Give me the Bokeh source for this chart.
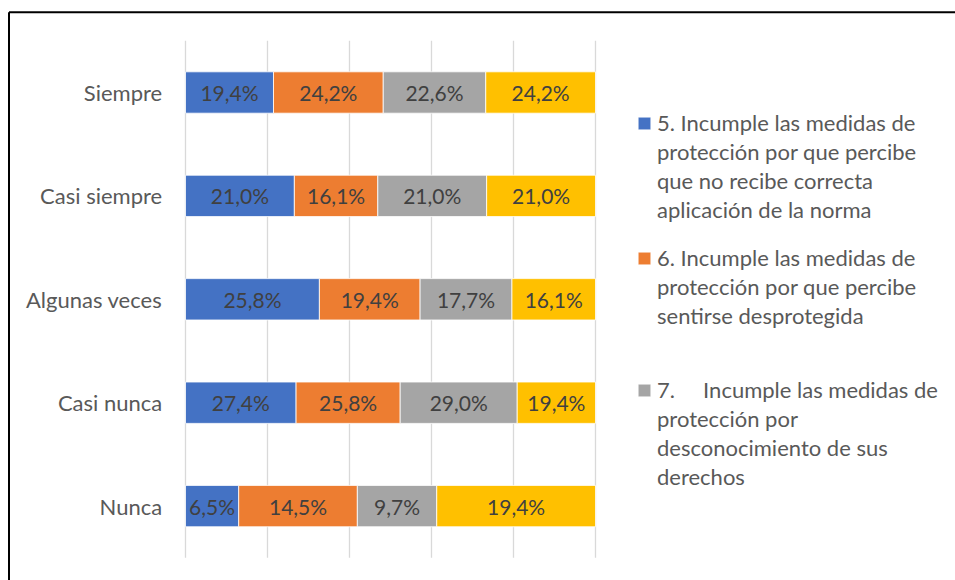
from bokeh.plotting import figure
from bokeh.models import ColumnDataSource, Range1d, Legend, LegendItem
from bokeh.core.properties import value
from bokeh.embed import file_html
from bokeh.resources import INLINE

categories = ["Siempre", "Casi siempre", "Algunas veces", "Casi nunca", "Nunca"]
s5 = [19.4, 21.0, 25.8, 27.4, 6.5]
s6 = [24.2, 16.1, 19.4, 25.8, 14.5]
s7 = [22.6, 21.0, 17.7, 29.0, 9.7]
s8 = [24.2, 21.0, 16.1, 19.4, 19.4]
series = [s5, s6, s7, s8]
legend_lines = [
    ["5. Incumple las medidas de", "protección por que percibe",
     "que no recibe correcta", "aplicación de la norma"],
    ["6. Incumple las medidas de", "protección por que percibe",
     "sentirse desprotegida"],
    ["7.     Incumple las medidas de", "protección por",
     "desconocimiento de sus", "derechos"],
]
colors = ["#4472C4", "#ED7D31", "#A5A5A5", "#FFC000"]
grid_ticks = [0, 0.2, 0.4, 0.6, 0.8, 1.0]

FONT = "Lato"
W, H = 955, 580
# layout: pixel geometry of the plotting area inside the canvas
X0_PX, X_SPAN_PX = 185, 410          # x = 0 .. 1 (100 %)
Y0_PX, Y_STEP_PX = 92, 103.4         # centre of first category, category spacing

x_range = Range1d(-X0_PX / X_SPAN_PX, (W - X0_PX) / X_SPAN_PX)
y_range = Range1d((H - Y0_PX) / Y_STEP_PX, -Y0_PX / Y_STEP_PX)

p = figure(width=W, height=H, output_backend="svg", toolbar_location=None,
           x_range=x_range, y_range=y_range, x_axis_location=None, y_axis_location=None,
           min_border=0, min_border_left=0, min_border_right=0,
           min_border_top=0, min_border_bottom=0)
p.outline_line_color = None
p.grid.visible = False
p.background_fill_color = "white"
p.border_fill_color = "white"

ypos = list(range(len(categories)))

# vertical gridlines at the percentage ticks
p.segment(x0=grid_ticks, x1=grid_ticks, y0=[-0.5] * len(grid_ticks),
          y1=[len(categories) - 0.5] * len(grid_ticks), line_color="#D9D9D9", line_width=1.3)

# category labels
p.text(x=[0] * len(categories), y=ypos, text=categories, x_offset=-23.3,
       text_align="right", text_baseline="middle", text_font=value(FONT),
       text_font_size="22px", text_color="#595959")

totals = [sum(v) for v in zip(*series)]
cum = [0.0] * len(categories)
bar_renderers = []
for i, s in enumerate(series):
    frac = [v / t for v, t in zip(s, totals)]
    left = cum[:]
    right = [l + f for l, f in zip(left, frac)]
    mid = [(l + r) / 2 for l, r in zip(left, right)]
    src = ColumnDataSource(dict(y=ypos, left=left, right=right, mid=mid,
                                lab=[f"{v:.1f}%".replace(".", ",") for v in s]))
    r = p.hbar(y="y", left="left", right="right", height=0.4, source=src,
               fill_color=colors[i], line_color="white", line_width=0.8)
    p.text(x="mid", y="y", text="lab", source=src, text_align="center", text_baseline="middle",
           text_font=value(FONT), text_font_size="21px", text_color="#404040")
    bar_renderers.append(r)
    cum = right

# invisible renderer for continuation lines of legend entries
blank = p.hbar(y=[], left=[], right=[], height=0.4, fill_alpha=0, line_alpha=0)

legend_x = 636
legend_y = [356, 250, 89]
for k, lines in enumerate(legend_lines):
    items = [LegendItem(label=lines[0], renderers=[bar_renderers[k]])]
    items += [LegendItem(label=t, renderers=[blank]) for t in lines[1:]]
    lg = Legend(items=items, location=(legend_x, legend_y[k]), border_line_color=None,
                background_fill_alpha=0, label_text_font=FONT, label_text_font_size="22px",
                label_text_color="#595959", label_height=29, glyph_width=16, glyph_height=16,
                spacing=0, margin=0, padding=0, label_standoff=5)
    p.add_layout(lg, "center")

# outer chart border (only its left and top edges fall inside the picture)
bx = (8.5 - X0_PX) / X_SPAN_PX
by = (11.75 - Y0_PX) / Y_STEP_PX
p.segment(x0=[bx, bx], y0=[by, by], x1=[bx, x_range.end + 1], y1=[y_range.start + 1, by],
          line_color="black", line_width=2)

open("out.html", "w").write(file_html(p, INLINE))
